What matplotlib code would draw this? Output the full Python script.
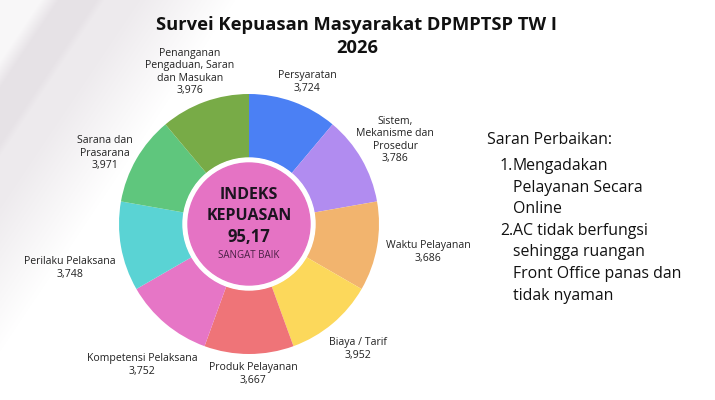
import numpy as np
import matplotlib.pyplot as plt
from matplotlib.patches import Circle

# aspek survei, searah jarum jam mulai dari atas
aspects = ["Persyaratan", "Sistem,\nMekanisme dan\nProsedur", "Waktu Pelayanan",
           "Biaya / Tarif", "Produk Pelayanan", "Kompetensi Pelaksana",
           "Perilaku Pelaksana", "Sarana dan\nPrasarana",
           "Penanganan\nPengaduan, Saran\ndan Masukan"]
scores = ["3,724", "3,786", "3,686", "3,952", "3,667", "3,752", "3,748", "3,971", "3,976"]
shares = [1, 1, 1, 1, 1, 1, 1, 1, 1]
colors = ["#4b80f4", "#b18cf0", "#f2b46e", "#fcd85b", "#ef7478",
          "#e676c6", "#5ad3d4", "#5fc67d", "#78ab47"]

ikm_value = "95,17"
ikm_grade = "SANGAT BAIK"
saran = ["Mengadakan\nPelayanan Secara\nOnline",
         "AC tidak berfungsi\nsehingga ruangan\nFront Office panas dan\ntidak nyaman"]

W, H = 715, 400
fig = plt.figure(figsize=(7.15, 4.0), dpi=100)
ax = fig.add_axes([0, 0, 1, 1])


def ramp(u, a, b):
    return np.clip((u - a) / (b - a), 0, 1)


# background: faint grey diagonal stripes in the top-left corner
yy, xx = np.mgrid[0:H, 0:W]
u = xx + 0.67 * yy
g = 0.975 - 0.07 * ramp(u, 40, 58)
g = g + 0.025 * ramp(u, 96, 104)
g = g + 0.07 * ramp(u, 135, 235)
g = np.clip(g, 0, 1)
img = np.dstack([g, g - 0.012 * (1 - g) / 0.07, g])
img = np.clip(img, 0, 1)
ax.imshow(img, extent=[0, W, 0, H], origin="upper", zorder=0, aspect="auto")

cx, cy = 249, H - 224
R = 130
ax.pie(shares, colors=colors, startangle=90, counterclock=False,
       radius=R, center=(cx, cy), frame=True,
       wedgeprops=dict(width=R - 66, linewidth=0))
ax.add_patch(Circle((cx, cy), 66, color="white", zorder=3))
ax.add_patch(Circle((cx, cy), 61, color="#e573c4", zorder=4))

ax.text(cx, H - 195, "INDEKS", ha="center", va="center", fontsize=11.5,
        fontweight="bold", family="Open Sans", color="#1c1420", zorder=5)
ax.text(cx, H - 216, "KEPUASAN", ha="center", va="center", fontsize=11.5,
        fontweight="bold", family="Open Sans", color="#1c1420", zorder=5)
ax.text(cx, H - 237, ikm_value, ha="center", va="center", fontsize=12,
        fontweight="bold", family="Open Sans", color="#1c1420", zorder=5)
ax.text(cx, H - 256, ikm_grade, ha="center", va="center", fontsize=7,
        family="Open Sans", color="#4a1f44", zorder=5)

# label positions (px from top-left), center of text block
label_pos = [(307, 82), (395, 140), (428, 252), (358, 349), (253, 374),
             (142, 365), (70, 268), (105, 153), (190, 72)]
for name, val, (lx, ly) in zip(aspects, scores, label_pos):
    ax.text(lx, H - ly, name + "\n" + val, ha="center", va="center",
            fontsize=7.6, family="Open Sans", color="#222222",
            linespacing=1.15, zorder=5)

ax.text(357, H - 25, "Survei Kepuasan Masyarakat DPMPTSP TW I", ha="center",
        va="center", fontsize=13.2, fontweight="bold", family="Open Sans",
        color="#111111")
ax.text(357, H - 48, "2026", ha="center", va="center", fontsize=13.2,
        fontweight="bold", family="Open Sans", color="#111111")

ax.text(487, H - 140, "Saran Perbaikan:", ha="left", va="center",
        fontsize=11.4, family="Open Sans", color="#111111")
line_h = 21.6
row = 0
for i, s in enumerate(saran):
    y0 = 166 + row * line_h
    ax.text(500, H - y0, f"{i + 1}.", ha="left", va="center", fontsize=11.4,
            family="Open Sans", color="#111111")
    for k, part in enumerate(s.split("\n")):
        ax.text(513, H - (y0 + k * line_h), part, ha="left", va="center",
                fontsize=11.4, family="Open Sans", color="#111111")
    row += len(s.split("\n"))

ax.set_xlim(0, W)
ax.set_ylim(0, H)
ax.set_aspect("auto")
ax.axis("off")
fig.savefig("out.png", dpi=100)
